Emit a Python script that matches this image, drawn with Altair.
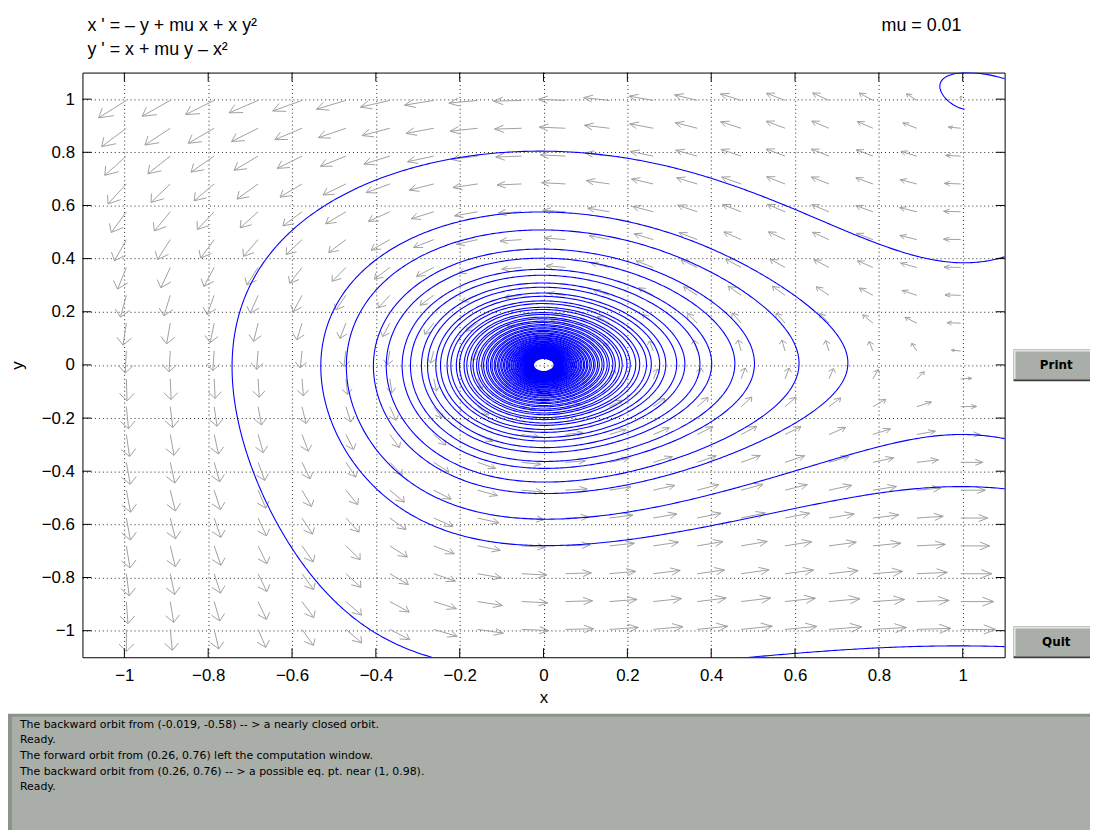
import math
import pandas as pd
import altair as alt

alt.data_transformers.disable_max_rows()

# ---------------- chart content ----------------
MU = 0.01
EQUATION_X = "x ' = \u2013 y + mu x + x y\u00b2"
EQUATION_Y = "y ' = x + mu y \u2013 x\u00b2"
PARAM_LABEL = "mu = 0.01"
X_DOMAIN = [-1.1, 1.1]
Y_DOMAIN = [-1.1, 1.1]
TICK_VALUES = [-1.0, -0.8, -0.6, -0.4, -0.2, 0.0, 0.2, 0.4, 0.6, 0.8, 1.0]
ARROWS_PER_SIDE = 20
# initial points of the computed solutions (message window + one)
ORBIT_X0 = [-0.019, 0.26, 0.0]
ORBIT_Y0 = [-0.58, 0.76, -0.68]
MESSAGES = [
    "The backward orbit from (-0.019, -0.58) -- > a nearly closed orbit.",
    "Ready.",
    "The forward orbit from (0.26, 0.76) left the computation window.",
    "The backward orbit from (0.26, 0.76) -- > a possible eq. pt. near (1, 0.98).",
    "Ready.",
]
BUTTON_LABELS = ["Print", "Quit"]

# solver settings
SPEED_STOP = 0.024
STEP_ARC = 0.002
SAVE_ARC = 0.005
T_MAX = 1000.0
BOX = 3.0
ARROW_SCALE = 0.066

FONT = "Liberation Sans"
W, H = 929, 589


def vector_field(x, y):
    return (-y + MU * x + x * y * y, x + MU * y - x * x)


def trace_orbit(x0, y0, direction):
    xs, ys = [x0], [y0]
    x, y = x0, y0
    t = 0.0
    arc = 0.0
    while t < T_MAX:
        fx, fy = vector_field(x, y)
        speed = math.hypot(fx, fy)
        if speed < SPEED_STOP:
            break
        h = direction * min(0.05, STEP_ARC / speed)
        k2 = vector_field(x + 0.5 * h * fx, y + 0.5 * h * fy)
        k3 = vector_field(x + 0.5 * h * k2[0], y + 0.5 * h * k2[1])
        k4 = vector_field(x + h * k3[0], y + h * k3[1])
        nx = x + h * (fx + 2 * k2[0] + 2 * k3[0] + k4[0]) / 6
        ny = y + h * (fy + 2 * k2[1] + 2 * k3[1] + k4[1]) / 6
        arc += math.hypot(nx - x, ny - y)
        x, y = nx, ny
        t += abs(h)
        if arc >= SAVE_ARC:
            xs.append(x)
            ys.append(y)
            arc = 0.0
        if abs(x) > BOX or abs(y) > BOX:
            xs.append(x)
            ys.append(y)
            break
    return xs, ys


# ---- orbits ----
orbit_rows = []
for k, (x0, y0) in enumerate(zip(ORBIT_X0, ORBIT_Y0)):
    for d in (1, -1):
        xs, ys = trace_orbit(x0, y0, d)
        name = f"o{k}{'f' if d > 0 else 'b'}"
        for i, (a, b) in enumerate(zip(xs, ys)):
            orbit_rows.append({"orbit": name, "i": i, "x": round(a, 5), "y": round(b, 5)})
orbits = pd.DataFrame(orbit_rows)

# ---- direction field arrows ----
span_x = X_DOMAIN[1] - X_DOMAIN[0]
span_y = Y_DOMAIN[1] - Y_DOMAIN[0]
grid_x = [X_DOMAIN[0] + (k + 1) * span_x / (ARROWS_PER_SIDE + 1) for k in range(ARROWS_PER_SIDE)]
grid_y = [Y_DOMAIN[0] + (k + 1) * span_y / (ARROWS_PER_SIDE + 1) for k in range(ARROWS_PER_SIDE)]
arrow_rows = []
ang = math.radians(32)
for gx in grid_x:
    for gy in grid_y:
        fx, fy = vector_field(gx, gy)
        ux, uy = fx / span_x, fy / span_y
        m = math.hypot(ux, uy)
        if m == 0:
            continue
        L = ARROW_SCALE * (m * span_x) ** (1.0 / 3.0)
        dx, dy = ux / m, uy / m
        tx, ty = gx + L * dx, gy + L * dy
        arrow_rows.append({"x": gx, "y": gy, "x2": tx, "y2": ty})
        for s in (1, -1):
            rx = (-dx) * math.cos(s * ang) - (-dy) * math.sin(s * ang)
            ry = (-dx) * math.sin(s * ang) + (-dy) * math.cos(s * ang)
            bl = 0.4 * L
            arrow_rows.append({"x": tx, "y": ty, "x2": tx + bl * rx, "y2": ty + bl * ry})
arrows = pd.DataFrame(arrow_rows)

ticks = pd.DataFrame({"v": TICK_VALUES})
dummy = pd.DataFrame({"a": [0]})

xs_ = alt.Scale(domain=X_DOMAIN, nice=False, zero=False)
ys_ = alt.Scale(domain=Y_DOMAIN, nice=False, zero=False)

common_axis = dict(
    values=TICK_VALUES, format="~g", grid=True, gridColor="black", gridDash=[1, 3],
    gridWidth=1, gridOpacity=0.85, ticks=False, tickSize=0, domain=False,
    labelFont=FONT, labelFontSize=17, labelColor="black", labelFlush=False,
    labelOverlap=False, titleFont=FONT, titleFontSize=17, titleFontWeight="normal",
    titleColor="black",
)
x_axis = alt.Axis(title="x", labelPadding=10, titleX=W / 2, titleY=41,
                  titleBaseline="middle", **common_axis)
y_axis = alt.Axis(title="y", labelPadding=8, titleX=-65, titleY=H / 2,
                  titleBaseline="middle", titleAngle=270, **common_axis)

ARROW_COLOR = "#a0a0a0"
arrow_layer = alt.Chart(arrows).mark_rule(color=ARROW_COLOR, strokeWidth=1, clip=True).encode(
    x=alt.X("x:Q", scale=xs_, axis=x_axis),
    y=alt.Y("y:Q", scale=ys_, axis=y_axis),
    x2="x2:Q",
    y2="y2:Q",
)

orbit_layer = alt.Chart(orbits).mark_line(color="#0000ff", strokeWidth=1.1, clip=True).encode(
    x=alt.X("x:Q", scale=xs_, axis=x_axis),
    y=alt.Y("y:Q", scale=ys_, axis=y_axis),
    detail="orbit:N",
    order="i:Q",
)

TL = 9
tick_layers = [
    alt.Chart(ticks).mark_rule(color="black").encode(
        x=alt.X("v:Q", scale=xs_, axis=x_axis), y=alt.value(H), y2=alt.value(H - TL)),
    alt.Chart(ticks).mark_rule(color="black").encode(
        x=alt.X("v:Q", scale=xs_, axis=x_axis), y=alt.value(0), y2=alt.value(TL)),
    alt.Chart(ticks).mark_rule(color="black").encode(
        y=alt.Y("v:Q", scale=ys_, axis=y_axis), x=alt.value(0), x2=alt.value(TL)),
    alt.Chart(ticks).mark_rule(color="black").encode(
        y=alt.Y("v:Q", scale=ys_, axis=y_axis), x=alt.value(W), x2=alt.value(W - TL)),
]


def px_rect(x1, y1, x2, y2, color):
    # page pixel coordinates -> plot-area coordinates
    return alt.Chart(dummy).mark_rect(color=color).encode(
        x=alt.value(x1 - 83), x2=alt.value(x2 - 83), y=alt.value(y1 - 70), y2=alt.value(y2 - 70))


def px_text(txt, x, y, size, align="left", baseline="alphabetic", font=FONT, weight="normal"):
    return alt.Chart(dummy).mark_text(
        text=txt, align=align, baseline=baseline, font=font, fontSize=size,
        fontWeight=weight, color="black").encode(x=alt.value(x - 83), y=alt.value(y - 70))


ui_layers = [
    px_text(EQUATION_X, 88, 28, 18),
    px_text(EQUATION_Y, 88, 52, 18),
    px_text(PARAM_LABEL, 888, 28, 18),
    # message panel
    px_rect(8, 716, 1098, 833, "#8e928d"),
    px_rect(12, 719, 1098, 833, "#a9aea8"),
]
for i, msg in enumerate(MESSAGES):
    ui_layers.append(px_text(msg, 20, 727 + 15.8 * i, 11, baseline="middle", font="DejaVu Sans"))
# buttons
for label, top in zip(BUTTON_LABELS, [349, 628]):
    ui_layers += [
        px_rect(1021, top, 1098, top + 32, "#3c3c3c"),
        px_rect(1021, top, 1098, top + 30, "#e4e6e4"),
        px_rect(1023, top + 2, 1098, top + 30, "#a9aea8"),
        px_text(label, 1064, top + 16, 12, align="center", baseline="middle",
                font="DejaVu Sans", weight="bold"),
    ]

chart = alt.layer(arrow_layer, orbit_layer, *tick_layers, *ui_layers).properties(
    width=W, height=H,
    padding={"left": 75, "top": 62, "right": 86, "bottom": 174},
    autosize="none",
    background="white",
).configure_view(stroke="black", strokeWidth=1)

chart.save("out.html", embed_options={"renderer": "svg", "actions": False})
